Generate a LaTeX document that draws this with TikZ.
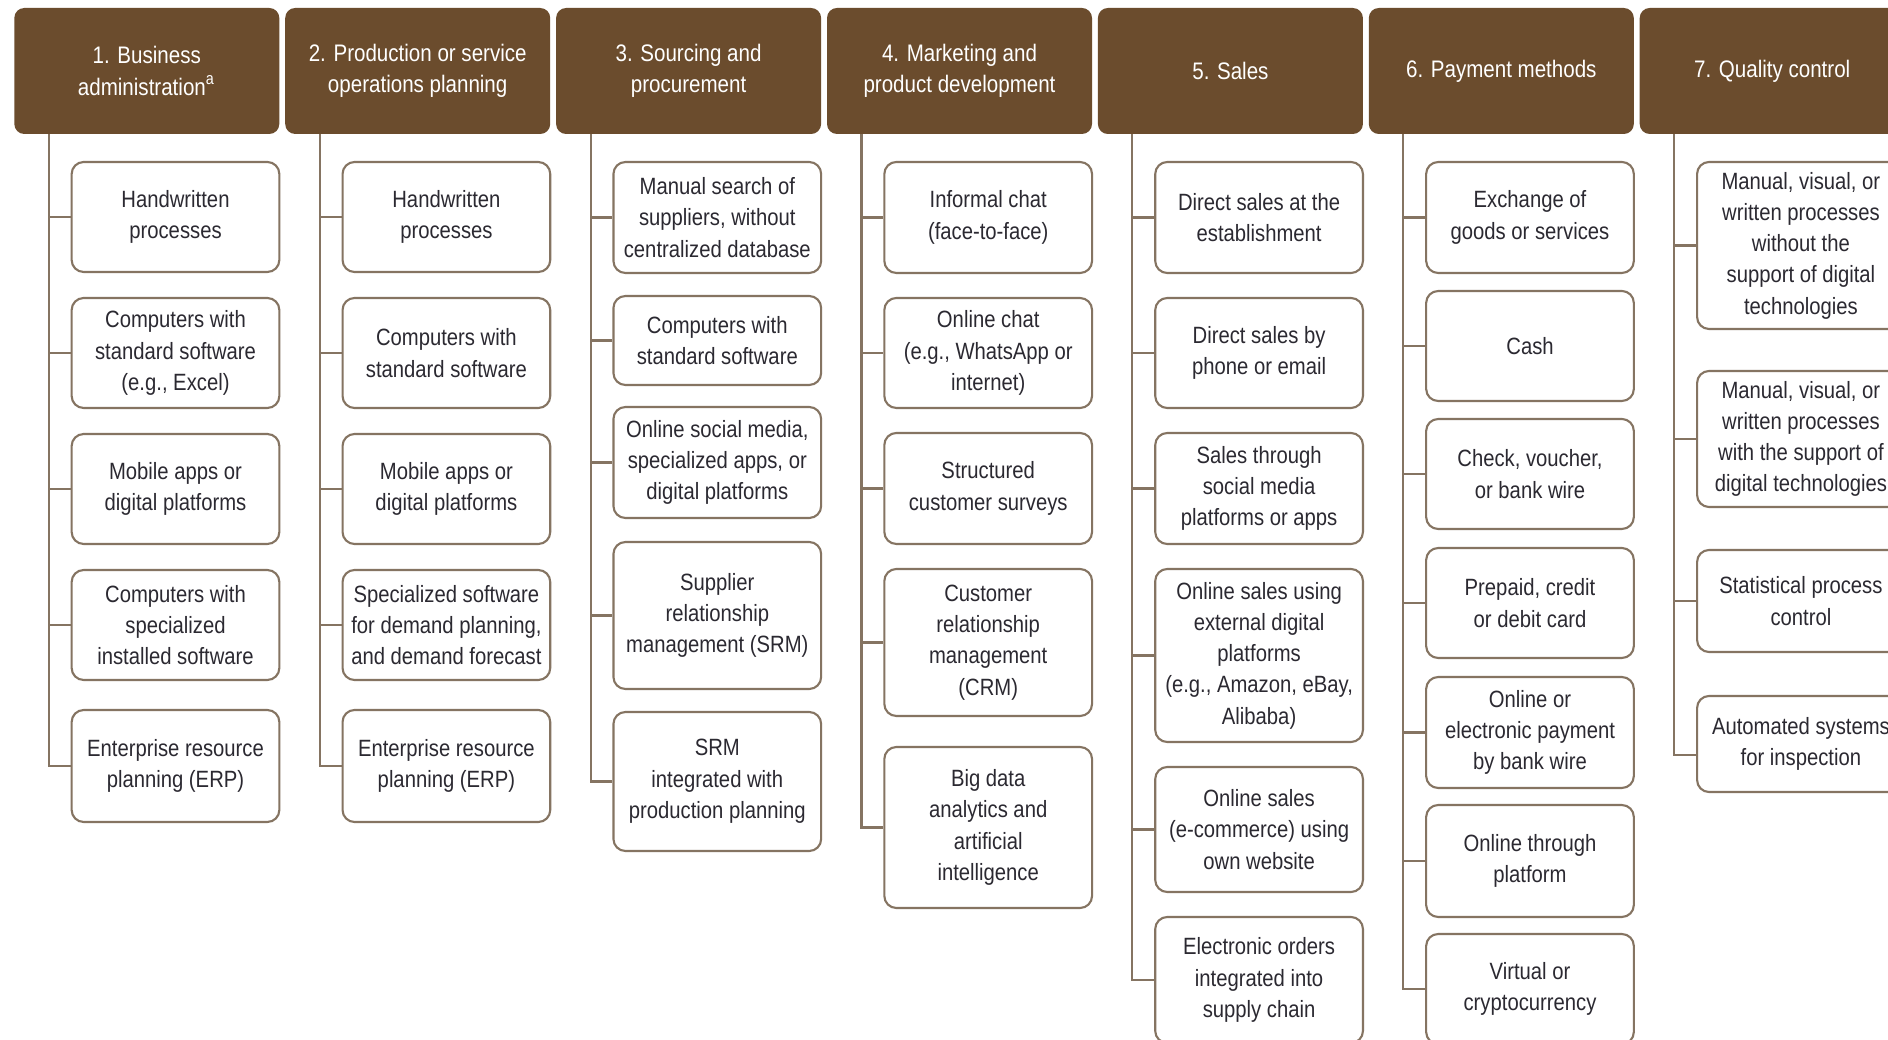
\documentclass[tikz,border=0pt]{standalone}
\usepackage{fontspec}
\setmainfont[FakeStretch=0.86]{Liberation Sans}
\usepackage{tikz}
\definecolor{hdbrown}{HTML}{6B4C2D}
\definecolor{lnbrown}{HTML}{857462}
\definecolor{txtgray}{HTML}{2B2931}
\tikzset{
	head/.style={fill=hdbrown, rounded corners=1mm, text=white, align=center, inner sep=0pt,
		minimum width=2.65cm, minimum height=1.26cm, font=\fontsize{6.8}{8.9}\selectfont},
	item/.style={draw=lnbrown, line width=0.6pt, rounded corners=1.2mm, fill=white, text=txtgray,
		align=center, inner sep=0pt, minimum width=2.077cm, font=\fontsize{6.7}{8.9}\selectfont},
	trunk/.style={draw=lnbrown, line width=0.6pt}
}

\begin{document}
\begin{tikzpicture}
			%%%%% START %%%%%
			
			\useasboundingbox (0,0) rectangle (18.88,10.39);
			\clip (0,0) rectangle (18.88,10.39);
			\fill[white] (0,0) rectangle (18.88,10.39);
			
			\node[head] (h1) at (1.468, 9.68) {1. Business\\administration\textsuperscript{a}};
			\node[head] (h2) at (4.177, 9.68) {2. Production or service\\operations planning};
			\node[head] (h3) at (6.886, 9.68) {3. Sourcing and\\procurement};
			\node[head] (h4) at (9.595, 9.68) {4. Marketing and\\product development};
			\node[head] (h5) at (12.304, 9.68) {5. Sales};
			\node[head] (h6) at (15.013, 9.68) {6. Payment methods};
			\node[head] (h7) at (17.722, 9.68) {7. Quality control};
			
			% 1
			\coordinate (t1) at (0.488, 9.05);
			\node[item, minimum height=1.10cm] (bus1) at (1.755, 8.22) {Handwritten\\processes};
			\node[item, minimum height=1.10cm] (bus2) at (1.755, 6.86) {Computers with\\standard software\\(e.g., Excel)};
			\node[item, minimum height=1.10cm] (bus3) at (1.755, 5.50) {Mobile apps or\\digital platforms};
			\node[item, minimum height=1.10cm] (bus4) at (1.755, 4.14) {Computers with\\specialized\\installed software};
			\node[item, minimum height=1.12cm] (bus5) at (1.755, 2.73) {Enterprise resource\\planning (ERP)};
			\draw[trunk] (t1) |- (bus5.west)
				(t1 |- bus1.west) -- (bus1.west)
				(t1 |- bus2.west) -- (bus2.west)
				(t1 |- bus3.west) -- (bus3.west)
				(t1 |- bus4.west) -- (bus4.west);
			
			% 2
			\coordinate (t2) at (3.197, 9.05);
			\node[item, minimum height=1.10cm] (prod1) at (4.464, 8.22) {Handwritten\\processes};
			\node[item, minimum height=1.10cm] (prod2) at (4.464, 6.86) {Computers with\\standard software};
			\node[item, minimum height=1.10cm] (prod3) at (4.464, 5.50) {Mobile apps or\\digital platforms};
			\node[item, minimum height=1.10cm] (prod4) at (4.464, 4.14) {Specialized software\\for demand planning,\\and demand forecast};
			\node[item, minimum height=1.12cm] (prod5) at (4.464, 2.73) {Enterprise resource\\planning (ERP)};
			\draw[trunk] (t2) |- (prod5.west)
				(t2 |- prod1.west) -- (prod1.west)
				(t2 |- prod2.west) -- (prod2.west)
				(t2 |- prod3.west) -- (prod3.west)
				(t2 |- prod4.west) -- (prod4.west);
			
			% 3
			\coordinate (t3) at (5.906, 9.05);
			\node[item, minimum height=1.11cm] (src1) at (7.173, 8.215) {Manual search of\\suppliers, without\\centralized database};
			\node[item, minimum height=0.89cm] (src2) at (7.173, 6.985) {Computers with\\standard software};
			\node[item, minimum height=1.11cm] (src3) at (7.173, 5.765) {Online social media,\\specialized apps, or\\digital platforms};
			\node[item, minimum height=1.47cm] (src4) at (7.173, 4.235) {Supplier\\relationship\\management (SRM)};
			\node[item, minimum height=1.39cm] (src5) at (7.173, 2.575) {SRM\\integrated with\\production planning};
			\draw[trunk] (t3) |- (src5.west)
				(t3 |- src1.west) -- (src1.west)
				(t3 |- src2.west) -- (src2.west)
				(t3 |- src3.west) -- (src3.west)
				(t3 |- src4.west) -- (src4.west);
			
			% 4
			\coordinate (t4) at (8.615, 9.05);
			\node[item, minimum height=1.11cm] (mkt1) at (9.882, 8.215) {Informal chat\\(face-to-face)};
			\node[item, minimum height=1.10cm] (mkt2) at (9.882, 6.86) {Online chat\\(e.g., WhatsApp or\\internet)};
			\node[item, minimum height=1.11cm] (mkt3) at (9.882, 5.505) {Structured\\customer surveys};
			\node[item, minimum height=1.47cm] (mkt4) at (9.882, 3.965) {Customer\\relationship\\management\\(CRM)};
			\node[item, minimum height=1.61cm] (mkt5) at (9.882, 2.115) {Big data\\analytics and\\artificial\\intelligence};
			\draw[trunk] (t4) |- (mkt5.west)
				(t4 |- mkt1.west) -- (mkt1.west)
				(t4 |- mkt2.west) -- (mkt2.west)
				(t4 |- mkt3.west) -- (mkt3.west)
				(t4 |- mkt4.west) -- (mkt4.west);
			
			% 5
			\coordinate (t5) at (11.324, 9.05);
			\node[item, minimum height=1.11cm] (sal1) at (12.591, 8.215) {Direct sales at the\\establishment};
			\node[item, minimum height=1.10cm] (sal2) at (12.591, 6.86) {Direct sales by\\phone or email};
			\node[item, minimum height=1.11cm] (sal3) at (12.591, 5.505) {Sales through\\social media\\platforms or apps};
			\node[item, minimum height=1.73cm] (sal4) at (12.591, 3.835) {Online sales using\\external digital\\platforms\\(e.g., Amazon, eBay,\\Alibaba)};
			\node[item, minimum height=1.25cm] (sal5) at (12.591, 2.095) {Online sales\\(e-commerce) using\\own website};
			\node[item, minimum height=1.26cm] (sal6) at (12.591, 0.59) {Electronic orders\\integrated into\\supply chain};
			\draw[trunk] (t5) |- (sal6.west)
				(t5 |- sal1.west) -- (sal1.west)
				(t5 |- sal2.west) -- (sal2.west)
				(t5 |- sal3.west) -- (sal3.west)
				(t5 |- sal4.west) -- (sal4.west)
				(t5 |- sal5.west) -- (sal5.west);
			
			% 6
			\coordinate (t6) at (14.033, 9.05);
			\node[item, minimum height=1.11cm] (pay1) at (15.300, 8.215) {Exchange of\\goods or services};
			\node[item, minimum height=1.10cm] (pay2) at (15.300, 6.93) {Cash};
			\node[item, minimum height=1.10cm] (pay3) at (15.300, 5.65) {Check, voucher,\\or bank wire};
			\node[item, minimum height=1.10cm] (pay4) at (15.300, 4.36) {Prepaid, credit\\or debit card};
			\node[item, minimum height=1.11cm] (pay5) at (15.300, 3.065) {Online or\\electronic payment\\by bank wire};
			\node[item, minimum height=1.12cm] (pay6) at (15.300, 1.78) {Online through\\platform};
			\node[item, minimum height=1.10cm] (pay7) at (15.300, 0.50) {Virtual or\\cryptocurrency};
			\draw[trunk] (t6) |- (pay7.west)
				(t6 |- pay1.west) -- (pay1.west)
				(t6 |- pay2.west) -- (pay2.west)
				(t6 |- pay3.west) -- (pay3.west)
				(t6 |- pay4.west) -- (pay4.west)
				(t6 |- pay5.west) -- (pay5.west)
				(t6 |- pay6.west) -- (pay6.west);
			
			% 7
			\coordinate (t7) at (16.742, 9.05);
			\node[item, minimum height=1.67cm] (qc1) at (18.009, 7.935) {Manual, visual, or\\written processes\\without the\\support of digital\\technologies};
			\node[item, minimum height=1.36cm] (qc2) at (18.009, 6.00) {Manual, visual, or\\written processes\\with the support of\\digital technologies};
			\node[item, minimum height=1.02cm] (qc3) at (18.009, 4.38) {Statistical process\\control};
			\node[item, minimum height=0.96cm] (qc4) at (18.009, 2.95) {Automated systems\\for inspection};
			\draw[trunk] (t7) |- ([yshift=-1.1mm]qc4.west)
				(t7 |- qc1.west) -- (qc1.west)
				(t7 |- qc2.west) -- (qc2.west)
				(t7 |- qc3.west) -- (qc3.west);
			
			%%%%% END %%%%%
		\end{tikzpicture}
\end{document}
